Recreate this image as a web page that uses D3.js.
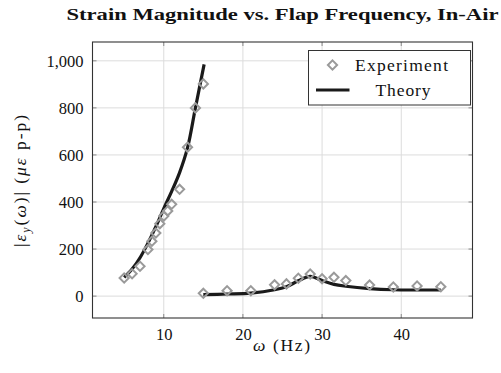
<!DOCTYPE html>
<html>
<head>
<meta charset="utf-8">
<script src="https://cdn.jsdelivr.net/npm/d3@7"></script>
<style>
  body { margin: 0; background: #fff; }
  svg text { font-family: "Liberation Serif", serif; fill: #111; }
</style>
</head>
<body>
<script>
// donnees
const expFreq = [5, 6, 7, 8, 8.5, 9, 9.5, 10, 10.5, 11, 12, 13, 14, 15,
                 15, 18, 21, 24, 25.5, 27, 28.5, 30, 31.5, 33, 36, 39, 42, 45];
const expStrain = [77, 95, 127, 198, 233, 268, 308, 340, 362, 390, 454, 633, 800, 902,
                   12, 23, 23, 48, 52, 76, 94, 74, 80, 66, 47, 39, 43, 40];

// theorie, branche basse frequence
const theoryFreqA = [5, 6, 7, 8, 9, 10, 11, 12, 13, 14, 15.1];
const theoryStrainA = [80, 115, 163, 225, 295, 372, 445, 525, 630, 800, 985];
// theorie, branche haute frequence
const theoryFreqB = [15, 18, 21, 24, 25.5, 27, 28.5, 30, 31.5, 33, 36, 39, 42, 45];
const theoryStrainB = [6, 9, 13, 27, 40, 65, 84, 66, 50, 42, 32, 27, 26, 26];

const xTicks = [10, 20, 30, 40];
const yTicks = [0, 200, 400, 600, 800, 1000];

const W = 501, H = 373;
const margin = { top: 42, right: 28.5, bottom: 55, left: 92.5 };
const police = "Liberation Serif";

const svg = d3.select("body").append("svg")
    .attr("width", W)
    .attr("height", H);

const x = d3.scaleLinear().domain([1, 49]).range([margin.left, W - margin.right]);
const y = d3.scaleLinear().domain([-93, 1080]).range([H - margin.bottom, margin.top]);

const x0 = x.range()[0], x1 = x.range()[1];
const y0 = y.range()[0], y1 = y.range()[1];

// grille
svg.append("g").selectAll("line").data(xTicks).join("line")
    .attr("x1", d => x(d)).attr("x2", d => x(d))
    .attr("y1", y1).attr("y2", y0)
    .attr("stroke", "#dcdcdc").attr("stroke-width", 1);
svg.append("g").selectAll("line").data(yTicks).join("line")
    .attr("x1", x0).attr("x2", x1)
    .attr("y1", d => y(d)).attr("y2", d => y(d))
    .attr("stroke", "#dcdcdc").attr("stroke-width", 1);

// petites graduations a l'interieur du cadre
const tl = 4;
const tg = svg.append("g").attr("stroke", "#8a8a8a").attr("stroke-width", 1);
xTicks.forEach(d => {
    tg.append("line").attr("x1", x(d)).attr("x2", x(d)).attr("y1", y0).attr("y2", y0 - tl);
    tg.append("line").attr("x1", x(d)).attr("x2", x(d)).attr("y1", y1).attr("y2", y1 + tl);
});
yTicks.forEach(d => {
    tg.append("line").attr("x1", x0).attr("x2", x0 + tl).attr("y1", y(d)).attr("y2", y(d));
    tg.append("line").attr("x1", x1).attr("x2", x1 - tl).attr("y1", y(d)).attr("y2", y(d));
});

// axes (labels seulement)
const axeX = d3.axisBottom(x).tickValues(xTicks).tickSize(0).tickPadding(10);
const axeY = d3.axisLeft(y).tickValues(yTicks).tickSize(0).tickPadding(9).tickFormat(d3.format(","));

svg.append("g").attr("transform", "translate(0," + y0 + ")").call(axeX)
    .attr("font-family", police).attr("font-size", 16.5)
    .call(g => g.select(".domain").remove())
    .selectAll("text").attr("fill", "#111");
svg.append("g").attr("transform", "translate(" + x0 + ",0)").call(axeY)
    .attr("font-family", police).attr("font-size", 16.5)
    .call(g => g.select(".domain").remove())
    .selectAll("text").attr("fill", "#111");

// courbes theoriques
const line = d3.line().x(d => x(d[0])).y(d => y(d[1])).curve(d3.curveCatmullRom);
const theoryA = theoryFreqA.map((f, i) => [f, theoryStrainA[i]]);
const theoryB = theoryFreqB.map((f, i) => [f, theoryStrainB[i]]);

svg.selectAll("path.theory").data([theoryA, theoryB]).join("path")
    .attr("class", "theory")
    .attr("d", line)
    .attr("fill", "none")
    .attr("stroke", "#1a1a1a")
    .attr("stroke-width", 3.2)
    .attr("stroke-linejoin", "round");

// points experimentaux (losanges)
const diamond = (cx, cy, r) => `M${cx},${cy - r}L${cx + r},${cy}L${cx},${cy + r}L${cx - r},${cy}Z`;
svg.append("g").selectAll("path").data(expFreq).join("path")
    .attr("d", (d, i) => diamond(x(d), y(expStrain[i]), 4.6))
    .attr("fill", "none")
    .attr("stroke", "#9a9a9a")
    .attr("stroke-width", 2);

// cadre
svg.append("rect")
    .attr("x", x0).attr("y", y1)
    .attr("width", x1 - x0).attr("height", y0 - y1)
    .attr("fill", "none").attr("stroke", "#333").attr("stroke-width", 1.1);

// legende
const leg = svg.append("g");
leg.append("rect")
    .attr("x", 308.5).attr("y", 50.5).attr("width", 162).attr("height", 54.5)
    .attr("fill", "#fff").attr("stroke", "#333").attr("stroke-width", 1);
leg.append("path").attr("d", diamond(332.5, 65, 4.6))
    .attr("fill", "none").attr("stroke", "#9a9a9a").attr("stroke-width", 2);
leg.append("line").attr("x1", 316).attr("x2", 349.5).attr("y1", 90).attr("y2", 90)
    .attr("stroke", "#1a1a1a").attr("stroke-width", 3.2);
leg.append("text").attr("x", 401.5).attr("y", 71).attr("text-anchor", "middle")
    .attr("font-size", 17.5).attr("textLength", 93).attr("lengthAdjust", "spacing")
    .text("Experiment");
leg.append("text").attr("x", 403).attr("y", 96).attr("text-anchor", "middle")
    .attr("font-size", 17.5).attr("textLength", 55).attr("lengthAdjust", "spacing")
    .text("Theory");

// titre
svg.append("text")
    .attr("x", (x0 + x1) / 2).attr("y", 19.5)
    .attr("text-anchor", "middle")
    .attr("font-size", 17).attr("font-weight", "bold")
    .attr("textLength", 432).attr("lengthAdjust", "spacingAndGlyphs")
    .text("Strain Magnitude vs. Flap Frequency, In-Air");

// titre axe x
const xl = svg.append("text")
    .attr("x", 281.5).attr("y", 351)
    .attr("text-anchor", "middle").attr("font-size", 17.5)
    .attr("textLength", 57).attr("lengthAdjust", "spacing");
xl.append("tspan").attr("font-style", "italic").text("ω");
xl.append("tspan").text(" (Hz)");

// titre axe y
const yl = svg.append("text")
    .attr("transform", "translate(26,181) rotate(-90)")
    .attr("text-anchor", "middle").attr("font-size", 17.5)
    .attr("textLength", 132).attr("lengthAdjust", "spacing");
yl.append("tspan").text("|");
yl.append("tspan").attr("font-style", "italic").text("ε");
yl.append("tspan").attr("font-style", "italic").attr("font-size", 12).attr("dy", 4).text("y");
yl.append("tspan").attr("dy", -4).text("(");
yl.append("tspan").attr("font-style", "italic").text("ω");
yl.append("tspan").text(")| (");
yl.append("tspan").attr("font-style", "italic").text("με");
yl.append("tspan").text(" p-p)");
</script>
</body>
</html>
